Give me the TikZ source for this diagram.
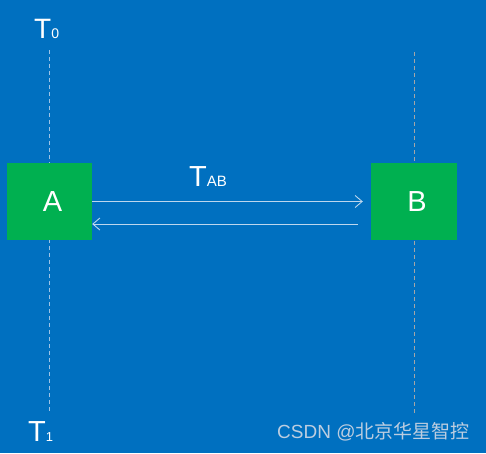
\documentclass[tikz,border=0pt]{standalone}
\usepackage{fontspec}
\setmainfont{Liberation Sans}
\newfontfamily\cjk{Noto Sans CJK SC}
\usepackage{tikz}
\usetikzlibrary{arrows.meta, positioning}

\definecolor{bgblue}{HTML}{0070C0}
\definecolor{boxgreen}{HTML}{00B050}
\definecolor{msgline}{HTML}{BDD7EE}
\definecolor{timeA}{HTML}{9DC3E6}
\definecolor{timeB}{HTML}{A6A6A6}
\definecolor{markgray}{HTML}{BCCDE0}

\begin{document}
\begin{tikzpicture}[
  x=1pt, y=-1pt,
  station/.style={rectangle, fill=boxgreen, minimum width=85pt, minimum height=77pt,
                  inner sep=0pt, text=white, font=\fontsize{29}{29}\selectfont},
  timeline/.style={line width=0.8pt, dash pattern=on 4pt off 3pt},
  msg/.style={draw=msgline, line width=0.9pt, -{Straight Barb[length=7pt, width=12pt]}},
  timelabel/.style={anchor=base west, inner sep=0pt, text=white},
  >=Latex
]
  %------------------------------------------------------------
  %  CANVAS
  %------------------------------------------------------------
  \fill[bgblue] (0,0) rectangle (486,453);
  \useasboundingbox (0,0) rectangle (486,453);

  %------------------------------------------------------------
  %  TIME LINES (drawn first, the boxes sit on top)
  %------------------------------------------------------------
  \coordinate (topA) at (49,50);
  \coordinate (botA) at (49,412);
  \coordinate (topB) at (414,52);
  \coordinate (botB) at (414,413);
  \draw[timeline, timeA] (topA) -- (botA);
  \draw[timeline, timeB] (topB) -- (botB);

  %------------------------------------------------------------
  %  STATIONS
  %------------------------------------------------------------
  \node[station] (A) at (49.5,201.5) {\hspace*{6pt}A};
  \node[station, minimum width=86pt] (B) at (414,201.5) {\hspace*{6pt}B};

  %------------------------------------------------------------
  %  MESSAGES  A -> B  and  B -> A
  %------------------------------------------------------------
  \draw[msg] (A.east) -- ([xshift=-8pt]B.west);
  \draw[msg] ([xshift=-13pt, yshift=-22.5pt]B.west) -- ([yshift=-22.5pt]A.east);

  %------------------------------------------------------------
  %  LABELS
  %------------------------------------------------------------
  \node[timelabel] (T0)  at (34,38)
    {{\fontsize{28}{28}\selectfont T}{\fontsize{14}{14}\selectfont 0}};
  \node[timelabel] (T1)  at (28,441)
    {{\fontsize{29}{29}\selectfont T}{\fontsize{13}{13}\selectfont 1}};
  \node[timelabel] (TAB) at (189,186)
    {{\fontsize{29}{29}\selectfont T}{\fontsize{15}{15}\selectfont AB}};

  \node[timelabel, text=markgray, font=\fontsize{19}{19}\selectfont] (mark) at (277,438)
    {CSDN @{\cjk 北京华星智控}};

\end{tikzpicture}
\end{document}
